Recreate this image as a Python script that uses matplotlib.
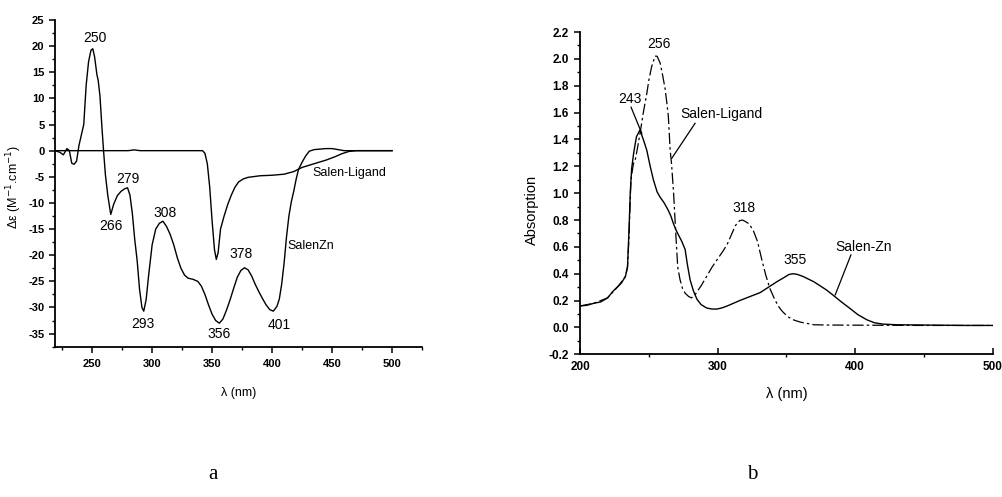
import matplotlib
matplotlib.use('Agg')
from matplotlib import pyplot as plt
from matplotlib.ticker import MultipleLocator, FormatStrFormatter

plt.rcParams['font.family'] = ['Liberation Sans', 'DejaVu Sans']
plt.rcParams['axes.unicode_minus'] = False

# (a) CD spectra, wavelength in nm and delta-epsilon in M-1 cm-1
cd_zn_nm = [219, 223, 226, 229, 231, 233, 235, 237, 239, 241, 243, 245, 247, 249, 250.5,
            252, 254, 255, 256.5, 258, 259.5, 261, 263, 265.5, 268, 271, 274, 277, 279.5,
            281.5, 283.5, 285.5, 287.5, 289.5, 291.5, 293, 295, 297, 300, 303, 306, 309,
            312, 315, 318, 321, 324, 327, 330, 334, 338, 341, 344, 347, 350, 353, 356, 359,
            362, 365, 368, 371, 374, 377, 380, 383, 386, 389, 392, 395, 398, 401, 404, 406,
            408, 410, 412, 414, 416, 418, 420, 422, 425, 428, 431, 435, 440, 445, 450, 455,
            460, 470, 480, 490, 500]
cd_zn = [0, -0.3, -0.8, 0.4, 0, -2.4, -2.6, -2.0, 1.0, 3.0, 5.0, 12.5, 17.0, 19.2, 19.5,
         18.0, 14.5, 13.5, 10.5, 5.0, 0, -4.5, -8.5, -12.2, -10.2, -8.6, -7.8, -7.3, -7.1,
         -8.5, -12.0, -17.0, -21.0, -26.5, -30.0, -30.7, -28.5, -24.0, -18.0, -15.0, -13.9,
         -13.5, -14.5, -16.0, -18.0, -20.5, -22.5, -23.8, -24.4, -24.6, -25.0, -25.9, -27.5,
         -29.5, -31.3, -32.5, -33.0, -32.2, -30.5, -28.5, -26.3, -24.2, -22.9, -22.4, -22.8,
         -24.0, -25.6, -27.0, -28.3, -29.5, -30.4, -30.7, -29.8, -28.4, -25.5, -21.5, -16.5,
         -12.5, -9.8, -7.8, -5.5, -3.6, -2.2, -1.0, -0.1, 0.2, 0.3, 0.4, 0.4, 0.2, 0, 0, 0,
         0, 0]

cd_lig_nm = [219, 250, 280, 285, 290, 320, 342, 344, 346, 348, 350, 352, 353.5, 355, 357,
             360, 363, 366, 369, 372, 376, 380, 390, 400, 410, 418, 425, 435, 445, 452, 458,
             464, 470, 500]
cd_lig = [0, 0, 0, 0.15, 0, 0, 0, -0.5, -2.5, -7.0, -13.5, -19.0, -20.8, -19.5, -15.0,
          -12.5, -10.3, -8.5, -7.0, -6.0, -5.4, -5.1, -4.8, -4.7, -4.5, -4.0, -3.2, -2.5,
          -1.8, -1.2, -0.6, -0.15, 0, 0]

cd_peaks = ['250', '279', '266', '308', '293', '356', '378', '401']
cd_peak_x = [252, 280, 265.5, 310.5, 292.5, 356, 374.5, 405.5]
cd_peak_y = [21.6, -5.4, -14.5, -11.9, -33.2, -35.0, -19.8, -33.3]

# (b) UV-Vis absorption spectra
uv_zn_nm = [200, 205, 210, 215, 220, 224, 228, 230, 233, 234.5, 235.5, 236.5, 237.5, 239,
            241, 243.5, 246, 248.5, 251, 253.3, 256, 258.2, 261, 264, 266, 268, 270, 272, 274,
            276.4, 278, 280, 282.5, 285, 288, 292, 296, 299.4, 303, 307, 311.5, 316, 321, 326,
            331, 337, 343, 348, 352, 355, 358, 362, 366, 370, 374.5, 379, 384, 390, 396.4, 402,
            408.5, 414, 420, 430, 450, 480, 500]
uv_zn = [0.16, 0.165, 0.18, 0.19, 0.22, 0.27, 0.31, 0.33, 0.38, 0.45, 0.7, 1.0, 1.18, 1.3,
         1.42, 1.47, 1.40, 1.32, 1.2, 1.10, 1.01, 0.97, 0.93, 0.875, 0.83, 0.77, 0.72, 0.68,
         0.64, 0.58, 0.47, 0.355, 0.27, 0.21, 0.17, 0.145, 0.137, 0.137, 0.145, 0.16, 0.18,
         0.20, 0.22, 0.24, 0.26, 0.30, 0.34, 0.37, 0.395, 0.40, 0.395, 0.38, 0.36, 0.34, 0.31,
         0.28, 0.24, 0.19, 0.14, 0.095, 0.057, 0.035, 0.025, 0.02, 0.018, 0.015, 0.015]

uv_lig_nm = [200, 210, 220, 228, 233, 234.5, 235.5, 236, 237, 238.8, 240, 242, 244, 246,
             248.5, 250, 252, 254.5, 256, 258.2, 260, 261.8, 263, 264.2, 265.5, 266.5, 268,
             269.6, 271, 272.7, 274.5, 276.4, 279, 281, 284, 288, 292, 296, 300, 304, 307, 310,
             313, 316, 318, 320, 323, 326, 329, 332, 335, 338, 341, 344, 347, 351, 355, 360,
             365, 370, 380, 400, 450, 500]
uv_lig = [0.16, 0.18, 0.22, 0.31, 0.38, 0.45, 0.65, 0.8, 1.1, 1.22, 1.24, 1.35, 1.47, 1.6,
          1.74, 1.84, 1.94, 2.02, 2.02, 1.97, 1.88, 1.78, 1.68, 1.57, 1.32, 1.22, 1.0, 0.70,
          0.45, 0.355, 0.29, 0.255, 0.23, 0.22, 0.25, 0.31, 0.38, 0.45, 0.51, 0.57, 0.62, 0.69,
          0.76, 0.795, 0.80, 0.79, 0.77, 0.72, 0.64, 0.51, 0.39, 0.29, 0.22, 0.16, 0.12, 0.08,
          0.057, 0.04, 0.03, 0.02, 0.018, 0.017, 0.015, 0.015]

uv_peaks = ['256', '243', '318', '355']
uv_peak_x = [257, 236.5, 319, 356.5]
uv_peak_y = [2.11, 1.70, 0.89, 0.50]

fig = plt.figure(figsize=(10.03, 4.97), dpi=100)

# ---- panel a ----
ax1 = fig.add_axes([0.0548, 0.3024, 0.366, 0.6574])
ax1.plot(cd_zn_nm, cd_zn, color='black', lw=1.0)
ax1.plot(cd_lig_nm, cd_lig, color='black', lw=1.0)
ax1.set_xlim(219, 525)
ax1.set_ylim(-37.5, 25)
ax1.xaxis.set_major_locator(MultipleLocator(50))
ax1.xaxis.set_minor_locator(MultipleLocator(25))
ax1.yaxis.set_major_locator(MultipleLocator(5))
ax1.yaxis.set_minor_locator(MultipleLocator(2.5))
for i in range(len(cd_peaks)):
    ax1.text(cd_peak_x[i], cd_peak_y[i], cd_peaks[i], fontsize=10, ha='center', va='center')
ax1.text(434, -4.3, 'Salen-Ligand', fontsize=9, ha='left', va='center')
ax1.text(413, -18.3, 'SalenZn', fontsize=9, ha='left', va='center')
ax1.set_xlabel('λ (nm)', fontsize=9)
ax1.set_ylabel('Δε (M$^{-1}$.cm$^{-1}$)', fontsize=9)
ax1.xaxis.set_label_coords(0.5, -0.122)
ax1.yaxis.set_label_coords(-0.083, 0.49)

# ---- panel b ----
ax2 = fig.add_axes([0.5783, 0.2871, 0.4115, 0.6485])
ax2.plot(uv_zn_nm, uv_zn, color='black', lw=1.0)
ax2.plot(uv_lig_nm, uv_lig, color='black', lw=0.9, linestyle=(0, (9, 2.5, 2, 2.5)))
ax2.set_xlim(200, 500)
ax2.set_ylim(-0.2, 2.2)
ax2.xaxis.set_major_locator(MultipleLocator(100))
ax2.xaxis.set_minor_locator(MultipleLocator(50))
ax2.yaxis.set_major_locator(MultipleLocator(0.2))
ax2.yaxis.set_minor_locator(MultipleLocator(0.1))
ax2.yaxis.set_major_formatter(FormatStrFormatter('%.1f'))
for i in range(len(uv_peaks)):
    ax2.text(uv_peak_x[i], uv_peak_y[i], uv_peaks[i], fontsize=10, ha='center', va='center')
ax2.plot([237.1, 244.9], [1.64, 1.445], color='black', lw=0.9)
ax2.text(272.7, 1.59, 'Salen-Ligand', fontsize=10, ha='left', va='center')
ax2.plot([283.6, 266.7], [1.52, 1.26], color='black', lw=0.9)
ax2.text(385.5, 0.60, 'Salen-Zn', fontsize=10, ha='left', va='center')
ax2.plot([396.9, 385.5], [0.54, 0.243], color='black', lw=0.9)
ax2.set_xlabel('λ (nm)', fontsize=10.5)
ax2.set_ylabel('Absorption', fontsize=10.5)
ax2.xaxis.set_label_coords(0.5, -0.1)
ax2.yaxis.set_label_coords(-0.1, 0.447)

for ax in (ax1, ax2):
    ax.spines['top'].set_visible(False)
    ax.spines['right'].set_visible(False)
    ax.spines['left'].set_linewidth(1.3)
    ax.spines['bottom'].set_linewidth(1.3)
    ax.tick_params(which='major', direction='out', length=4, width=1.1, labelsize=8)
    ax.tick_params(which='minor', direction='out', length=2.5, width=1.0)
    for lbl in ax.get_xticklabels() + ax.get_yticklabels():
        lbl.set_fontweight('bold')
ax1.tick_params(axis='x', which='major', pad=5)
ax2.tick_params(axis='x', which='major', direction='in', pad=5, labelsize=8.5)
ax2.tick_params(axis='y', which='major', pad=4, labelsize=8.5)

fig.text(0.212, 0.045, 'a', fontsize=15, family='Liberation Serif', ha='center', va='center')
fig.text(0.75, 0.045, 'b', fontsize=15, family='Liberation Serif', ha='center', va='center')

fig.savefig('out.png', dpi=100)
